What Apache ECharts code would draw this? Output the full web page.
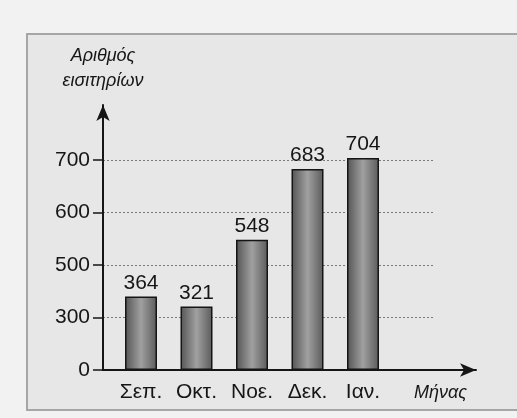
<!DOCTYPE html>
<html>
<head>
<meta charset="utf-8">
<script src="https://cdn.jsdelivr.net/npm/echarts@6/dist/echarts.min.js"></script>
<style>
  html, body { margin: 0; padding: 0; background: #f2f2f2; }
  #chart { width: 517px; height: 418px; }
</style>
</head>
<body>
<div id="chart"></div>
<script>
// months and tickets sold
const months = ['Σεπ.', 'Οκτ.', 'Νοε.', 'Δεκ.', 'Ιαν.'];
const tickets = [364, 321, 548, 683, 704];
const yTicks = [0, 300, 500, 600, 700];

const font = 'Liberation Sans';
const ink = '#161616';

// the printed axis skips from 0 to 300 and from 300 to 500 in one step each
function brokenAxis(extra) {
    return Object.assign({
        type: 'value',
        min: 0,
        max: 805,
        breaks: [
            { start: 0, end: 300, gap: 100 },
            { start: 340, end: 440, gap: 0 }
        ],
        breakArea: { show: false }
    }, extra);
}

const arrowLine = {
    show: true,
    symbol: ['none', 'arrow'],
    symbolSize: [10, 16],
    lineStyle: { color: ink, width: 2 }
};

let myChart = echarts.init(document.getElementById('chart'));
myChart.setOption({
    backgroundColor: '#f2f2f2',
    animation: false,
    graphic: [{
        type: 'rect',
        z: -10,
        shape: { x: 27, y: 34, width: 500, height: 376 },
        style: { fill: '#e7e7e7', stroke: '#a6a6a6', lineWidth: 2 }
    }],
    grid: [
        // ticks, labels, grid lines
        { left: 103, top: 105, width: 330, height: 265 },
        // bars
        { left: 113.25, top: 105, width: 333, height: 265 },
        // both axis lines with arrows
        { left: 103, top: 105, width: 373, height: 265 }
    ],
    xAxis: [
        { gridIndex: 0, type: 'category', data: months, show: false },
        {
            gridIndex: 1,
            type: 'category',
            data: months.concat(['']),
            axisLine: { show: false },
            axisTick: { show: false },
            axisLabel: { margin: 12, color: ink, fontSize: 21, fontFamily: font }
        },
        {
            gridIndex: 2,
            type: 'value',
            min: 0,
            max: 1,
            axisLine: arrowLine,
            axisTick: { show: false },
            axisLabel: { show: false },
            splitLine: { show: false },
            name: 'Μήνας',
            nameLocation: 'end',
            nameGap: -9,
            nameTextStyle: {
                align: 'right', verticalAlign: 'top', padding: [14, 0, 0, 0],
                fontStyle: 'italic', fontSize: 18, color: ink, fontFamily: font
            }
        }
    ],
    yAxis: [
        brokenAxis({
            gridIndex: 0,
            axisLine: { show: false },
            axisTick: {
                show: true, length: 10, customValues: yTicks,
                lineStyle: { color: ink, width: 1.5 }
            },
            axisLabel: {
                customValues: yTicks, margin: 13,
                color: ink, fontSize: 21, fontFamily: font
            },
            splitLine: {
                show: true,
                lineStyle: { color: '#7a7a7a', width: 1, type: [2, 2] }
            }
        }),
        brokenAxis({ gridIndex: 1, show: false, splitLine: { show: false } }),
        {
            gridIndex: 2,
            type: 'value',
            min: 0,
            max: 1,
            axisLine: arrowLine,
            axisTick: { show: false },
            axisLabel: { show: false },
            splitLine: { show: false },
            name: 'Αριθμός\nεισιτηρίων',
            nameLocation: 'end',
            nameGap: 12,
            nameTextStyle: {
                align: 'center', fontStyle: 'italic', fontSize: 18, lineHeight: 25,
                color: ink, fontFamily: font
            }
        }
    ],
    series: [{
        name: 'Αριθμός εισιτηρίων',
        type: 'bar',
        xAxisIndex: 1,
        yAxisIndex: 1,
        barWidth: 32,
        data: tickets,
        itemStyle: {
            color: new echarts.graphic.LinearGradient(0, 0, 1, 0, [
                { offset: 0, color: '#545454' },
                { offset: 0.5, color: '#a0a0a0' },
                { offset: 1, color: '#5a5a5a' }
            ]),
            borderColor: '#151515',
            borderWidth: 1.5
        },
        label: {
            show: true,
            position: 'top',
            distance: 3,
            color: ink,
            fontSize: 21,
            fontFamily: font
        }
    }]
});
</script>
</body>
</html>
